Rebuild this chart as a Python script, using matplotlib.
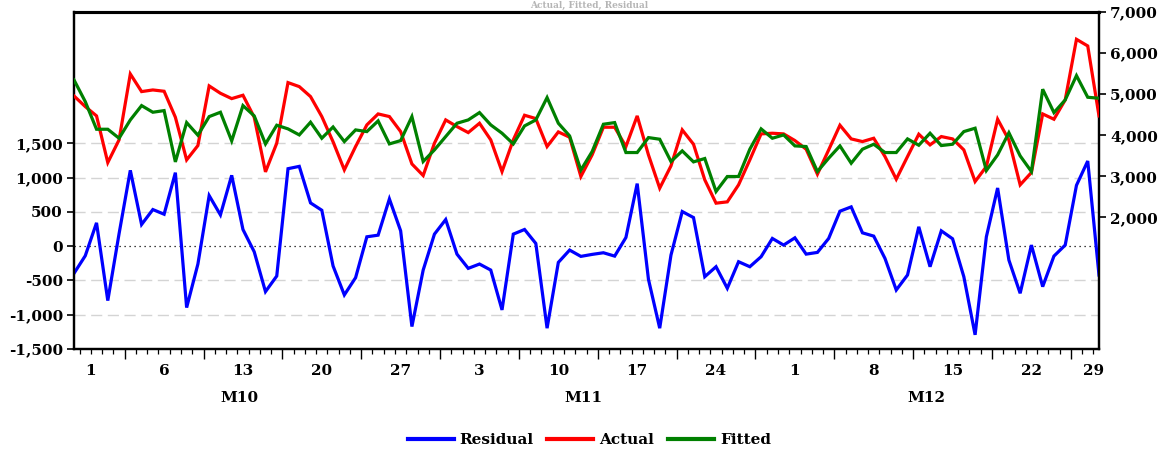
import numpy as np
import pandas as pd
import matplotlib
matplotlib.use("Agg")
import matplotlib.pyplot as plt
from matplotlib.lines import Line2D
import matplotlib.transforms as mtransforms

# ---------------- data ----------------
dates = pd.date_range("2014-10-01", "2014-12-31", freq="D")

residual = [-398, -141, 340, -796, 180, 1107, 316, 534, 466, 1073,
            -898, -262, 738, 456, 1034, 243, -83, -665, -437, 1131,
            1165, 631, 524, -290, -713, -461, 136, 160, 689, 223,
            -1175, -350, 175, 388, -117, -325, -262, -350, -932, 175,
            243, 39, -1199, -238, -58, -150, -121, -97, -146, 126,
            913, -485, -1199, -131, 505, 417, -447, -301, -616, -228,
            -301, -155, 112, 15, 121, -117, -92, 112, 510, 573,
            194, 146, -180, -641, -422, 282, -301, 223, 107, -447,
            -1296, 136, 849, -204, -689, 15, -592, -146, 15, 888,
            1243, -422]

actual = [4956, 4697, 4470, 3334, 3886, 5491, 5062, 5102, 5070, 4437,
          3399, 3748, 5200, 5021, 4891, 4973, 4437, 3107, 3805, 5281,
          5183, 4940, 4454, 3840, 3156, 3724, 4251, 4518, 4454, 4088,
          3300, 3018, 3805, 4372, 4210, 4064, 4291, 3886, 3115, 3886,
          4486, 4405, 3724, 4080, 3951, 2994, 3521, 4194, 4194, 3724,
          4470, 3521, 2710, 3253, 4129, 3780, 2913, 2345, 2377, 2791,
          3399, 4032, 4048, 4032, 3870, 3659, 3050, 3642, 4243, 3910,
          3845, 3926, 3480, 2929, 3480, 4024, 3764, 3967, 3910, 3642,
          2872, 3237, 4389, 3880, 2791, 3091, 4518, 4389, 4859, 6335,
          6173, 4470]

fitted = [5346, 4818, 4145, 4145, 3926, 4372, 4721, 4559, 4599, 3350,
          4307, 4000, 4453, 4559, 3861, 4721, 4470, 3788, 4243, 4154,
          4007, 4316, 3926, 4200, 3845, 4129, 4088, 4348, 3788, 3869,
          4453, 3359, 3642, 3967, 4291, 4372, 4551, 4251, 4048, 3788,
          4226, 4372, 4916, 4291, 3983, 3150, 3602, 4267, 4307, 3578,
          3578, 3942, 3902, 3359, 3618, 3350, 3432, 2629, 2994, 2994,
          3659, 4154, 3926, 4007, 3740, 3724, 3115, 3440, 3740, 3318,
          3659, 3780, 3578, 3578, 3910, 3756, 4048, 3748, 3780, 4088,
          4170, 3140, 3521, 4060, 3497, 3115, 5119, 4551, 4859, 5451,
          4924, 4900]

left_ticks = [-1500, -1000, -500, 0, 500, 1000, 1500]
right_ticks = [2000, 3000, 4000, 5000, 6000, 7000]

# ---------------- style ----------------
FONT = "DejaVu Serif"
FS = 11
plt.rcParams["font.family"] = FONT
plt.rcParams["font.weight"] = "bold"

W, H = 1167, 453
fig = plt.figure(figsize=(W / 100, H / 100), dpi=100)
L, R, T, B = 74, 1099, 12, 349
ax = fig.add_axes([L / W, (H - B) / H, (R - L) / W, (B - T) / H])
ax2 = ax.twinx()

x = np.arange(len(dates))
n = len(dates)

# grid
for v in left_ticks:
    if v == 0:
        ax.axhline(0, color="black", lw=0.9, ls=(0, (1, 3)), zorder=1)
    else:
        ax.axhline(v, color="#d4d4d4", lw=1.0, ls=(0, (8, 4)), zorder=1)

lw = 2.3
ax.plot(x, residual, color="#0000ff", lw=lw, zorder=3, solid_joinstyle="miter")
ax2.plot(x, actual, color="#ff0000", lw=lw, zorder=3, solid_joinstyle="miter")
ax2.plot(x, fitted, color="#008000", lw=lw, zorder=4, solid_joinstyle="miter")

ax.set_xlim(0, n - 1)
ax.set_ylim(-1503, 3420)
ax2.set_ylim(-1206, 7000)

ax.set_yticks(left_ticks)
ax.set_yticklabels([f"{v:,}" for v in left_ticks])
ax2.set_yticks(right_ticks)
ax2.set_yticklabels([f"{v:,}" for v in right_ticks])

for a in (ax, ax2):
    a.tick_params(axis="y", direction="out", length=5, width=1.2,
                  labelsize=FS, pad=3)
    for lab in a.get_yticklabels():
        lab.set_fontweight("bold")
        lab.set_fontfamily(FONT)
    for s in a.spines.values():
        s.set_linewidth(1.6)
        s.set_color("black")
ax.spines["top"].set_linewidth(2.2)
ax2.spines["top"].set_linewidth(2.2)

# x ticks: minor at every day boundary, major at week starts
week_starts = [i for i, d in enumerate(dates) if d.weekday() == 0]
ax.set_xticks([i - 0.5 for i in week_starts])
ax.set_xticks(np.arange(0.5, n - 1, 1.0), minor=True)
ax.set_xticklabels([])
ax.tick_params(axis="x", which="major", direction="out", length=7, width=1.0)
ax.tick_params(axis="x", which="minor", direction="out", length=3.5, width=0.9)
ax2.tick_params(axis="x", which="both", length=0)

# week labels (centered in each interval)
trans = mtransforms.blended_transform_factory(ax.transData, fig.transFigure)
label_days = [0] + week_starts
bounds = label_days + [n]
lo_clip, hi_clip = -1.5, n + 0.5
for k, i in enumerate(label_days):
    a0 = max(bounds[k] - 0.5, lo_clip)
    a1 = min(bounds[k + 1] - 0.5, hi_clip)
    if k == 0:
        a0 = lo_clip
    if k == len(label_days) - 1:
        a1 = hi_clip
    fig.text((a0 + a1) / 2, (H - 371) / H, str(dates[i].day), transform=trans,
             ha="center", va="center", fontsize=FS, fontweight="bold",
             family=FONT)

# month labels
months = sorted(set(dates.month))
for m in months:
    idx = [i for i, d in enumerate(dates) if d.month == m]
    fig.text((idx[0] + idx[-1]) / 2 - 0.3, (H - 398) / H, f"M{m}", transform=trans,
             ha="center", va="center", fontsize=FS, fontweight="bold",
             family=FONT)

# faint title in the narrow top margin
fig.text(0.505, 1 - 0.5 / H, "Actual, Fitted, Residual", ha="center",
         va="top", fontsize=6.5, fontweight="bold", family=FONT,
         color="#b5b5b5")

# legend
handles = [Line2D([], [], color="#0000ff", lw=3),
           Line2D([], [], color="#ff0000", lw=3),
           Line2D([], [], color="#008000", lw=3)]
leg = fig.legend(handles, ["Residual", "Actual", "Fitted"], loc="center",
                 bbox_to_anchor=(0.505, (H - 440) / H), ncol=3, frameon=False,
                 handlelength=3.0, handletextpad=0.4, columnspacing=0.9,
                 prop={"family": FONT, "weight": "bold", "size": FS})

fig.savefig("out.png", dpi=100)
